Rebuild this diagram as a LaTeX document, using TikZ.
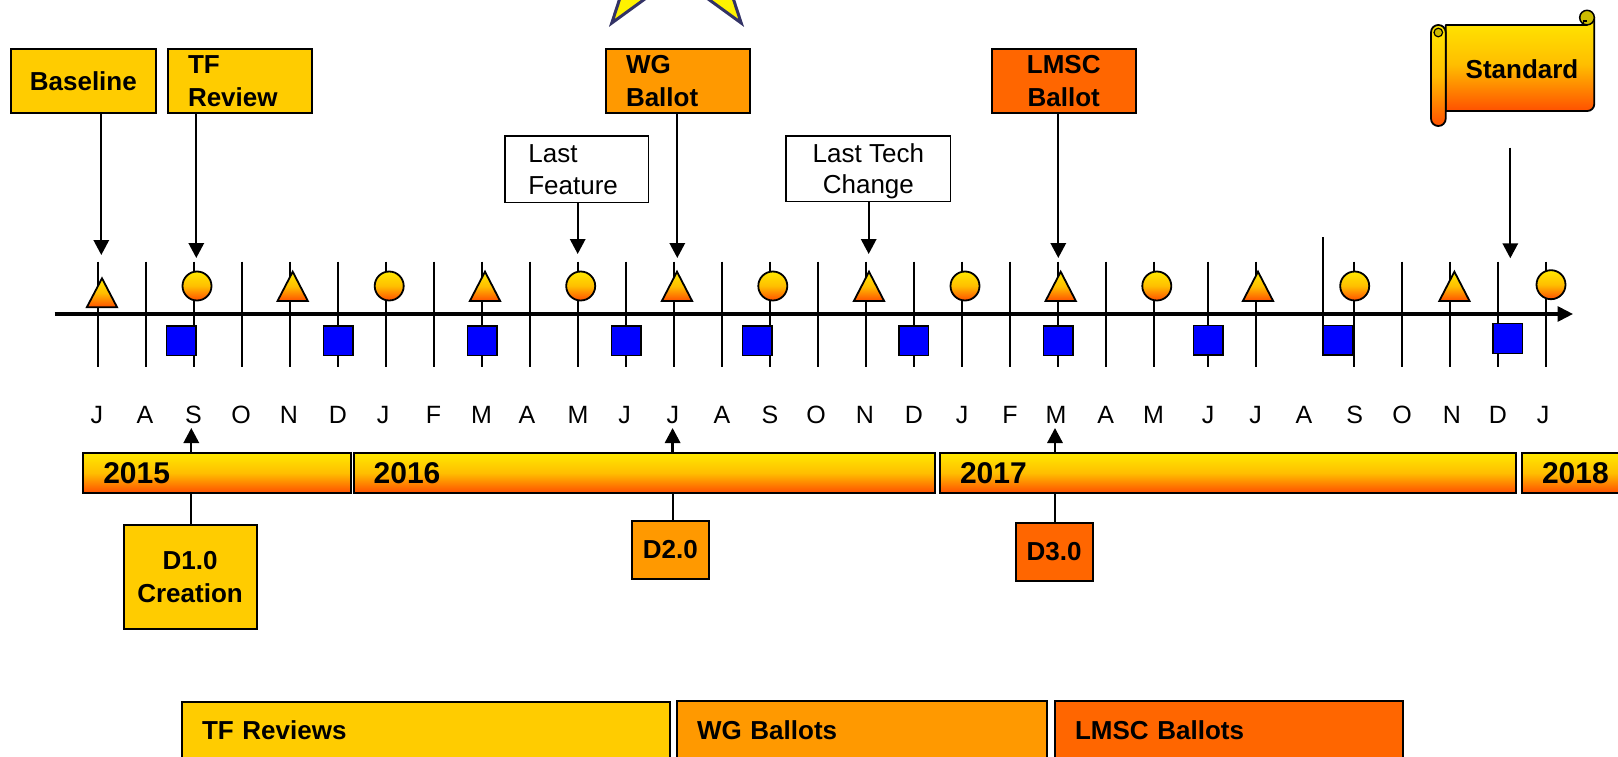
\documentclass[tikz,border=0pt]{standalone}
\usepackage{fontspec}
\setmainfont{Liberation Sans}
\usetikzlibrary{arrows.meta,calc}
\definecolor{gold}{RGB}{255,204,0}
\definecolor{orng}{RGB}{255,153,0}
\definecolor{dorng}{RGB}{255,102,0}
\definecolor{gtop}{RGB}{255,232,0}
\definecolor{gmid}{RGB}{255,190,0}
\definecolor{gbot}{RGB}{255,80,0}
\definecolor{starline}{RGB}{51,51,102}
\definecolor{rollc}{RGB}{204,187,0}
\definecolor{sqblue}{RGB}{0,0,255}
\begin{document}
\begin{tikzpicture}[x=1pt,y=-1pt,
  grad/.style={top color=gtop,bottom color=gbot,middle color=gmid},
  box/.style={draw=black,line width=2pt,inner sep=0pt,font=\fontsize{26}{33.3}\selectfont\bfseries},
  plainbox/.style={draw=black,line width=1.5pt,fill=white,inner sep=0pt,font=\fontsize{26}{31.7}\selectfont},
  bar/.style={grad,draw=black,line width=1.8pt,minimum height=39.4,inner sep=0pt,align=left,font=\fontsize{30}{36}\selectfont\bfseries},
  legend/.style={draw=black,line width=2pt,inner sep=0pt,align=left,font=\fontsize{26}{31}\selectfont\bfseries},
  arr/.style={line width=2.3pt,-{Triangle[width=15.3pt,length=15pt]}},
  conn/.style={line width=2pt},
  tickline/.style={line width=2pt},
  tri/.style={grad,draw=black,line width=1.8pt,line join=miter},
  circ/.style={grad,draw=black,line width=1.8pt},
  sq/.style={fill=sqblue,draw=black,line width=1.5pt},
  month/.style={anchor=base,font=\fontsize{25}{30}\selectfont}
]
\useasboundingbox (0,0) rectangle (1618,757);
\fill[white] (0,0) rectangle (1618,757);

% star (mostly outside the picture)
\draw[fill=yellow,draw=starline,line width=3pt,line join=miter]
  (676.5,-176) -- (651.8,-100) -- (571.9,-100) -- (636.6,-53) -- (611.8,23)
  -- (676.5,-24) -- (741.2,23) -- (716.4,-53) -- (781.1,-100) -- (701.2,-100) -- cycle;

% top boxes
\node[box,fill=gold,minimum width=144.7,minimum height=64.3] (baseline) at (83.35,81.15) {Baseline};
\node[box,fill=gold,minimum width=144,minimum height=64.3,text width=104,align=left] (tfrev) at (240,81.15) {TF\\Review};
\node[box,fill=orng,minimum width=144,minimum height=64.3,text width=103.4,align=left] (wg) at (677.7,81.15) {WG\\Ballot};
\node[box,fill=dorng,minimum width=144,minimum height=64.3,align=center] (lmsc) at (1063.7,81.15) {LMSC\\Ballot};
\node[plainbox,minimum width=143.7,minimum height=66.7,text width=97,align=left] (lastfeat) at (576.85,169.35) {Last\\Feature};
\node[plainbox,minimum width=164.7,minimum height=65.3,align=center] (lasttech) at (868.35,168.65) {Last Tech\\Chan\smash{g}e};

% scroll
\draw[grad,line width=1.8pt,line join=round]
  (1445.7,111) -- (1445.7,25) -- (1587,25) -- (1587,17.6) -- (1594.3,17.6)
  [rounded corners=7] -- (1594.3,111) [sharp corners] -- (1445.7,111) -- cycle;
\draw[fill=rollc,line width=1.5pt] (1587,17.6) circle[radius=7.3];
\draw[line width=1.2pt] (1583.5,24.9) -- (1583.5,21) -- (1587,21);
\draw[grad,line width=1.8pt,rounded corners=7.3] (1431,25) rectangle (1445.7,126);
\draw[fill=rollc,line width=1.2pt] (1438.3,32.5) circle[radius=4.3];
\node[font=\fontsize{26}{31}\selectfont\bfseries,inner sep=0pt] (standard) at (1522,69) {Standard};

% arrow tips
\coordinate (tBase) at (101.3,255);
\coordinate (tTF) at (196.3,258);
\coordinate (tLF) at (577.7,254);
\coordinate (tWG) at (677.3,258);
\coordinate (tLT) at (868.7,254);
\coordinate (tLM) at (1058.3,258);
\coordinate (tSt) at (1510.3,258.3);
\coordinate (sSt) at (1510.3,147.7);
\draw[arr] (baseline.south -| tBase) -- (tBase);
\draw[arr] (tfrev.south -| tTF) -- (tTF);
\draw[arr] (lastfeat.south -| tLF) -- (tLF);
\draw[arr] (wg.south -| tWG) -- (tWG);
\draw[arr] (lasttech.south -| tLT) -- (tLT);
\draw[arr] (lmsc.south -| tLM) -- (tLM);
\draw[arr] (sSt) -- (tSt);

% month ticks
\foreach \x in {98.2,146.4,193.9,242.1,290,337.9,385.7,433.6,481.5,529.5,577.9,626,673.9,722.1,770,818.2,866,913.9,962.1,1010,1058.2,1105.6,1153.6,1208,1255.7,1353.6,1402,1450,1497.8,1545.8}
  \draw[tickline] (\x,261.7) -- (\x,367.3);
\draw[tickline] (1322.7,237) -- (1322.7,342);

% axis
\coordinate (axS) at (54.7,314);
\coordinate (axE) at (1573.2,314);
\draw[line width=4.5pt,-{Triangle[width=14.7pt,length=15.7pt]}] (axS) -- (axE);

% triangles
\draw[tri] (86.8,307.3) -- (102,278.3) -- (117.1,307.3) -- cycle;
\foreach \x in {292.7,485,677,869,1060.7,1258,1454.4}
  \draw[tri] (\x-15.15,301) -- (\x,271.7) -- (\x+15.15,301) -- cycle;
% circles
\foreach \x in {197,389.2,580.7,772.8,965,1156.8,1354.7}
  \draw[circ] (\x,286) circle[radius=14.5];
\draw[circ] (1551,284.7) circle[radius=14.5];
% squares
\foreach \x/\y in {181/326,338/326,482/326,626/326,757.1/326,913.9/326,1058.2/326,1208.2/325.3,1337.6/325.3,1507.7/323.7}
  \draw[sq] (\x-14.75,\y) rectangle +(29.5,29.7);

% month labels
\foreach \x/\m in {96.8/J,145/A,193.5/S,241/O,289/N,337.9/D,383/J,433.6/F,481.5/M,527/A,578/M,624.6/J,672.8/J,722/A,770/S,816/O,865/N,914/D,962/J,1010/F,1056/M,1105.6/A,1153.6/M,1208/J,1255.7/J,1304/A,1354.7/S,1402/O,1451.9/N,1497.8/D,1543/J}
  \node[month] at (\x,423.3) {\m};

% year bars
\node[bar,minimum width=268,text width=228] (y15) at (217.3,473) {2015};
\node[bar,minimum width=581.3,text width=541.3] (y16) at (644.35,473) {2016};
\node[bar,minimum width=576.3,text width=536.3] (y17) at (1228.15,473) {2017};
\node[bar,minimum width=178,text width=138] (y18) at (1611,473) {2018};

% draft boxes
\node[box,fill=gold,minimum width=133.1,minimum height=104.6,align=center,font=\fontsize{26}{32.6}\selectfont\bfseries] (d1) at (190.05,577) {D1.0\\Creation};
\node[box,fill=orng,minimum width=77.6,minimum height=58.6] (d2) at (670.4,550) {D2.0};
\node[box,fill=dorng,minimum width=77.2,minimum height=58.6] (d3) at (1054.1,552) {D3.0};

\coordinate (uSep) at (191.3,428);
\coordinate (uJul) at (672.6,428);
\coordinate (uMar) at (1055,428);
\draw[arr] (y15.north -| uSep) -- (uSep);
\draw[arr] (y16.north -| uJul) -- (uJul);
\draw[arr] (y17.north -| uMar) -- (uMar);
\draw[conn] (d1.north -| uSep) -- (y15.south -| uSep);
\draw[conn] (d2.north -| uJul) -- (y16.south -| uJul);
\draw[conn] (d3.north -| uMar) -- (y17.south -| uMar);

% legend boxes
\node[legend,fill=gold,minimum width=487.7,minimum height=57.6,text width=447.7] (tfrs) at (425.85,730.5) {TF Reviews};
\node[legend,fill=orng,minimum width=369.8,minimum height=58.6,text width=329.8] (wgbs) at (861.9,730) {WG Ballots};
\node[legend,fill=dorng,minimum width=347.9,minimum height=58.6,text width=307.9] (lmscbs) at (1229.05,730) {LMSC Ballots};
\end{tikzpicture}
\end{document}
